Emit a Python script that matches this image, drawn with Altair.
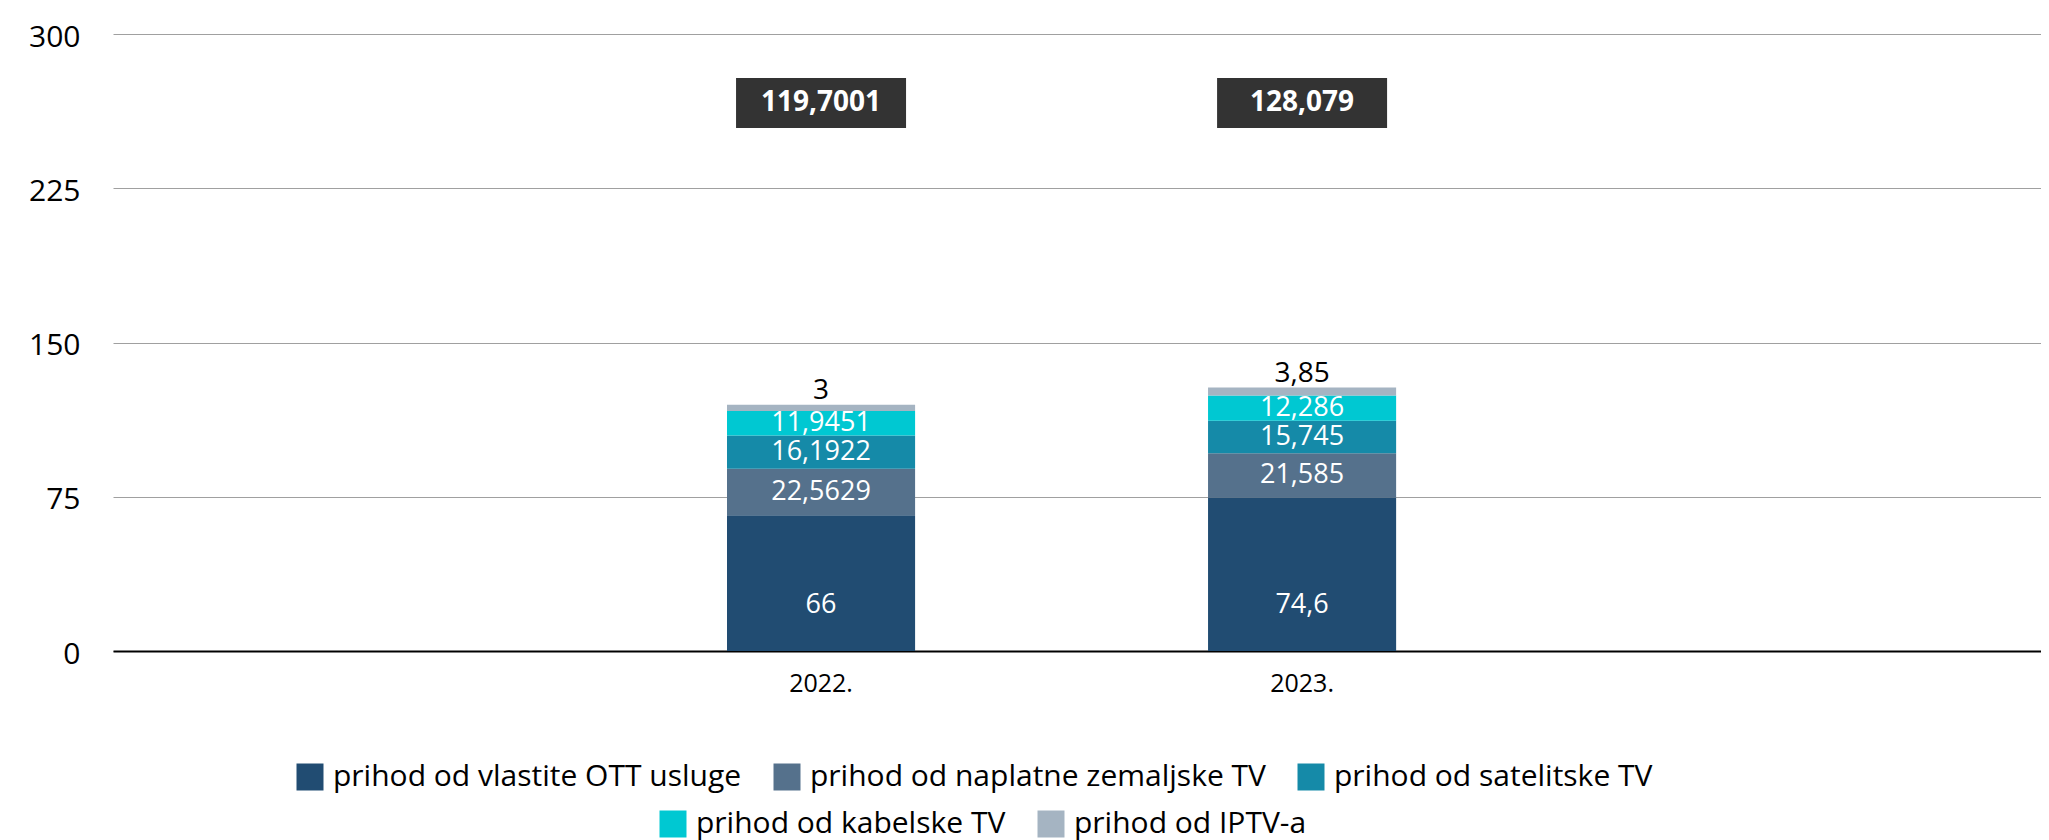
import altair as alt
import pandas as pd

years = ["2022.", "2023."]
x_domain = [" ", "2022.", "2023.", "  "]
series = [
    "prihod od vlastite OTT usluge",
    "prihod od naplatne zemaljske TV",
    "prihod od satelitske TV",
    "prihod od kabelske TV",
    "prihod od IPTV-a",
]
ott = [66, 74.6]
zemaljska = [22.5629, 21.585]
satelitska = [16.1922, 15.745]
kabelska = [11.9451, 12.286]
iptv = [3, 3.85]
totals = [119.7001, 128.079]
colors = ["#214C72", "#55718C", "#158AA8", "#00C8D2", "#A5B4C2"]

FONT = "Open Sans"


def fmt(v):
    return str(v).replace(".", ",")


rows = []
for yi, yr in enumerate(years):
    cum = 0.0
    for si, (name, vals) in enumerate(zip(series, [ott, zemaljska, satelitska, kabelska, iptv])):
        v = vals[yi]
        rows.append({
            "year": yr, "series": name, "order": si, "value": v,
            "start": cum, "end": cum + v, "mid": cum + v / 2, "label": fmt(v),
        })
        cum += v
df = pd.DataFrame(rows)
tot_df = pd.DataFrame({"year": years, "total": totals, "label": [fmt(t) for t in totals]})

xscale = alt.Scale(domain=x_domain, paddingInner=0.609, paddingOuter=0.3085, align=0.448)
x_enc = alt.X("year:N", scale=xscale, title=None,
              axis=alt.Axis(values=years, labelAngle=0, labelFontSize=25, labelFont=FONT,
                            labelColor="#000000", ticks=False, domain=True, domainColor="#000000",
                            domainWidth=2, labelPadding=20, grid=False))
y_scale = alt.Scale(domain=[0, 300], nice=False)
y_enc = alt.Y("start:Q", scale=y_scale, title=None,
              axis=alt.Axis(values=[0, 75, 150, 225, 300], labelFontSize=30, labelFont=FONT,
                            labelColor="#000000", ticks=False, domain=False, grid=True,
                            gridColor="#A0A0A0", gridWidth=1, labelPadding=33, labelOffset=3))

base = alt.Chart(df)


def legend(x, y):
    return alt.Legend(title=None, orient="none", legendX=x, legendY=y,
                      direction="horizontal", symbolType="square", symbolSize=729,
                      symbolStrokeWidth=0, labelFontSize=30, labelFont=FONT,
                      labelColor="#000000", labelLimit=800, labelOffset=8,
                      columnPadding=30, padding=0)


bars_a = base.transform_filter("datum.order < 3").mark_bar().encode(
    x=x_enc,
    y=y_enc,
    y2="end:Q",
    color=alt.Color("series:N", sort=series[:3],
                    scale=alt.Scale(domain=series[:3], range=colors[:3]),
                    legend=legend(182, 728)),
)

bars_b = base.transform_filter("datum.order >= 3").mark_bar().encode(
    x=alt.X("year:N", scale=xscale),
    y=alt.Y("start:Q", scale=y_scale),
    y2="end:Q",
    color=alt.Color("series:N", sort=series[3:],
                    scale=alt.Scale(domain=series[3:], range=colors[3:]),
                    legend=legend(545, 775)),
)

mid_labels = base.transform_filter("datum.order >= 1 && datum.order <= 3").mark_text(
    color="white", fontSize=27, font=FONT, baseline="middle", align="center"
).encode(
    x=alt.X("year:N", scale=xscale),
    y=alt.Y("mid:Q", scale=y_scale),
    text="label:N",
)

base_labels = base.transform_filter("datum.order == 0").mark_text(
    color="white", fontSize=27, font=FONT, baseline="middle", align="center", dy=-46
).encode(
    x=alt.X("year:N", scale=xscale),
    y=alt.Y("start:Q", scale=y_scale),
    text="label:N",
)

top_labels = base.transform_filter("datum.order == 4").mark_text(
    color="#000000", fontSize=28, font=FONT, baseline="alphabetic", align="center", dy=-6
).encode(
    x=alt.X("year:N", scale=xscale),
    y=alt.Y("end:Q", scale=y_scale),
    text="label:N",
)

tot_box = alt.Chart(tot_df).mark_bar(size=170, color="#333333").encode(
    x=alt.X("year:N", scale=xscale),
    y=alt.value(44),
    y2=alt.value(94),
)
tot_text = alt.Chart(tot_df).mark_text(
    color="white", fontSize=28, font=FONT, fontWeight="bold", baseline="middle", align="center"
).encode(
    x=alt.X("year:N", scale=xscale),
    y=alt.value(69),
    text="label:N",
)

chart = alt.layer(
    bars_a, bars_b, mid_labels, base_labels, top_labels, tot_box, tot_text
).resolve_scale(color="independent").properties(
    width=1928, height=617,
    padding={"left": 105, "top": 26, "right": 0, "bottom": 190},
    autosize=alt.AutoSizeParams(type="none"),
    background="white",
).configure_view(stroke=None)

chart.save("out.html", embed_options={"renderer": "svg", "actions": False})
